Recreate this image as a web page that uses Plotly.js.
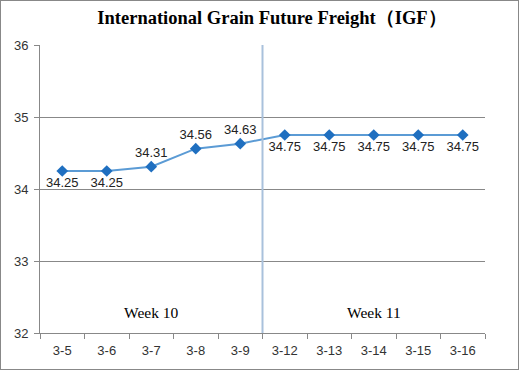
<!DOCTYPE html>
<html>
<head>
<meta charset="utf-8">
<script src="https://cdn.plot.ly/plotly-3.0.1.min.js"></script>
<style>
html,body{margin:0;padding:0;background:#fff;}
#chart{width:519px;height:370px;}
#frame{position:absolute;left:0;top:0;width:517px;height:368px;border:1px solid #888;pointer-events:none;}
</style>
</head>
<body>
<div id="chart"></div>
<div id="frame"></div>
<script>
const dates = ["3-5","3-6","3-7","3-8","3-9","3-12","3-13","3-14","3-15","3-16"];
const freight = [34.25,34.25,34.31,34.56,34.63,34.75,34.75,34.75,34.75,34.75];
const labelPos = ["bottom center","bottom center","top center","top center","top center","bottom center","bottom center","bottom center","bottom center","bottom center"];
const weekLabels = ["Week 10","Week 11"];
const titleText = "International Grain Future Freight（IGF）";

const trace = {
  x: dates, y: freight, type: "scatter", mode: "lines+markers+text",
  text: freight.map(v => v.toFixed(2)),
  textposition: labelPos,
  textfont: {family: "Liberation Sans, Arial, sans-serif", size: 13, color: "#222"},
  line: {color: "#5b9bd5", width: 2},
  marker: {symbol: "diamond", size: 9, color: "#1f6fc0"},
  cliponaxis: false, hoverinfo: "skip"
};

const layout = {
  width: 519, height: 370,
  margin: {l: 40, r: 34, t: 45, b: 37},
  paper_bgcolor: "#fff", plot_bgcolor: "#fff",
  showlegend: false,
  title: {text: "<b>" + titleText + "</b>", x: 0.524, xanchor: "center", y: 0.952, yanchor: "middle",
          font: {family: "Liberation Serif, Times New Roman, serif", size: 18.5, color: "#000"}},
  xaxis: {type: "category", tickson: "boundaries", ticks: "outside", ticklen: 5, tickcolor: "#888",
          showline: true, linecolor: "#888", linewidth: 1, showgrid: false, zeroline: false,
          range: [-0.5, 9.5], ticklabelstandoff: 5,
          tickfont: {family: "Liberation Sans, Arial, sans-serif", size: 13, color: "#333"}},
  yaxis: {range: [32, 36], dtick: 1, ticks: "outside", ticklen: 5, tickcolor: "#888",
          showline: true, linecolor: "#888", linewidth: 1, gridcolor: "#888", gridwidth: 1, zeroline: false,
          ticklabelstandoff: 3,
          tickfont: {family: "Liberation Sans, Arial, sans-serif", size: 13, color: "#333"}},
  shapes: [{type: "line", xref: "x", yref: "y", x0: 4.5, x1: 4.5, y0: 32, y1: 36,
            line: {color: "#a9c1dc", width: 2}}],
  annotations: [
    {x: 2, y: 32.28, xref: "x", yref: "y", text: weekLabels[0], showarrow: false,
     font: {family: "Liberation Serif, Times New Roman, serif", size: 15.5, color: "#000"}},
    {x: 7, y: 32.28, xref: "x", yref: "y", text: weekLabels[1], showarrow: false,
     font: {family: "Liberation Serif, Times New Roman, serif", size: 15.5, color: "#000"}}
  ]
};

Plotly.newPlot("chart", [trace], layout, {displayModeBar: false, staticPlot: true});
</script>
</body>
</html>
